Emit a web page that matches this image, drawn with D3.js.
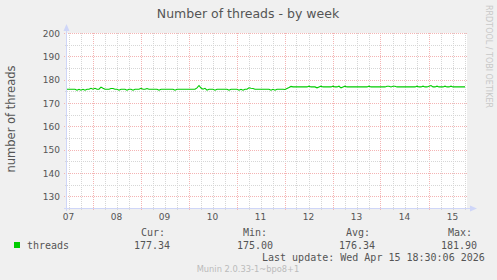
<!DOCTYPE html>
<html>
<head>
<meta charset="utf-8">
<script src="https://cdn.jsdelivr.net/npm/d3@7"></script>
<style>
  html, body { margin: 0; padding: 0; background: #F0F0F0; }
  svg { display: block; }
</style>
</head>
<body>
<svg id="chart" width="497" height="280"></svg>
<script>
// ---- data ----
const title = "Number of threads - by week";
const yAxisTitle = "number of threads";
const seriesName = "threads";
const startTime = "2026-04-07T11:15:00Z";   // first sample (hourly samples)
const endTime = "2026-04-15T19:15:00Z";
const yMin = 125, yMax = 200;
const yMajorTicks = [130, 140, 150, 160, 170, 180, 190, 200];
const yMinorTicks = [135, 145, 155, 165, 175, 185, 195];
const xDayLabels = ["07", "08", "09", "10", "11", "12", "13", "14", "15"];
const threads = [
  175.9,175.9,175.9,175.9,175.9,175.5,175.9,175.5,175.9,175.5,
  175.9,175.9,176.3,175.9,176.3,175.9,175.9,176.8,176.3,175.9,
  175.9,175.9,176.2,176.2,175.9,175.9,175.5,175.9,175.9,175.9,
  175.5,175.9,175.9,175.5,175.9,175.9,175.9,176.3,175.9,175.9,
  176.2,175.9,175.9,175.9,175.9,175.9,175.5,175.9,175.9,175.9,
  175.9,175.9,175.9,175.9,175.5,175.9,175.9,175.9,175.9,175.9,
  175.9,175.9,175.9,175.9,175.9,176.5,177.5,176.4,175.9,176.3,
  175.5,175.9,175.9,175.9,175.5,175.9,175.9,175.9,175.9,175.9,
  175.9,175.5,175.9,175.9,175.9,175.9,175.5,175.9,175.5,175.9,
  175.9,176.5,176.3,176.2,175.9,175.9,175.9,175.9,175.9,175.9,
  175.9,175.9,175.5,175.9,175.5,175.9,175.9,175.9,175.9,175.8,
  176.2,176.6,177.1,176.9,176.9,176.9,176.9,176.9,176.9,176.9,
  176.9,177.2,176.9,176.9,176.9,176.5,176.9,177.2,176.9,176.9,
  176.9,176.9,176.9,177.2,176.9,176.9,177.2,176.5,176.9,177.2,
  176.9,176.9,176.9,176.9,176.9,176.9,176.9,176.9,176.9,176.9,
  176.9,177.2,176.9,176.9,176.9,176.9,176.9,176.9,176.9,176.9,
  177.2,177.2,176.9,177.2,177.2,176.9,176.9,176.9,176.9,176.9,
  176.9,176.9,176.9,176.9,176.9,177.2,176.9,176.9,177.2,176.9,
  176.9,177.2,177.5,176.9,176.9,177.2,176.9,176.9,176.9,177.2,
  176.9,176.9,177.2,176.9,176.9,176.9,176.9,176.9,176.9,176.9
];
const legendHeaders = ["Cur:", "Min:", "Avg:", "Max:"];
const legendValues = ["177.34", "175.00", "176.34", "181.90"];
const lastUpdate = "Last update: Wed Apr 15 18:30:06 2026";
const footer = "Munin 2.0.33-1~bpo8+1";
const watermark = "RRDTOOL / TOBI OETIKER";

// ---- layout ----
const plot = { left: 67, right: 467, top: 33, bottom: 208 };
const textColor = "#555555";
const sans = "DejaVu Sans, sans-serif";
const mono = "DejaVu Sans Mono, monospace";

const svg = d3.select("#chart");
svg.append("rect").attr("width", 497).attr("height", 280).attr("fill", "#F0F0F0");
svg.append("rect")
  .attr("x", plot.left).attr("y", plot.top)
  .attr("width", plot.right - plot.left).attr("height", plot.bottom - plot.top)
  .attr("fill", "#FFFFFF");

const t0 = new Date(startTime), t1 = new Date(endTime);
const x = d3.scaleUtc().domain([t0, t1]).range([plot.left, plot.right]);
const y = d3.scaleLinear().domain([yMin, yMax]).range([plot.bottom, plot.top]);

const data = threads.map((v, i) => ({ t: d3.utcHour.offset(t0, i), v }));

// grid
const minorColor = "#D6D6D6", majorColor = "#F4B4B4";
const g = svg.append("g").attr("shape-rendering", "crispEdges");
const sixH = d3.utcHour.every(6).range(t0, t1).filter(d => d.getUTCHours() !== 0);
const days = d3.utcDay.range(t0, t1);
g.selectAll(".vmin").data(sixH).join("line")
  .attr("x1", d => Math.round(x(d)) + 0.5).attr("x2", d => Math.round(x(d)) + 0.5)
  .attr("y1", plot.top).attr("y2", plot.bottom + 2)
  .attr("stroke", minorColor).attr("stroke-dasharray", "1,1");
g.selectAll(".vmaj").data(days).join("line")
  .attr("x1", d => Math.round(x(d)) + 0.5).attr("x2", d => Math.round(x(d)) + 0.5)
  .attr("y1", plot.top).attr("y2", plot.bottom + 3)
  .attr("stroke", majorColor).attr("stroke-dasharray", "1,1");
g.selectAll(".hmin").data(yMinorTicks).join("line")
  .attr("x1", plot.left - 2).attr("x2", plot.right)
  .attr("y1", d => Math.round(y(d)) + 0.5).attr("y2", d => Math.round(y(d)) + 0.5)
  .attr("stroke", minorColor).attr("stroke-dasharray", "1,1");
g.selectAll(".hmaj").data(yMajorTicks).join("line")
  .attr("x1", plot.left - 3).attr("x2", plot.right)
  .attr("y1", d => Math.round(y(d)) + 0.5).attr("y2", d => Math.round(y(d)) + 0.5)
  .attr("stroke", majorColor).attr("stroke-dasharray", "1,1");

// axes
const axisColor = "#CFD6F8";
g.append("line").attr("x1", plot.left - 0.5).attr("x2", plot.left - 0.5)
  .attr("y1", plot.bottom + 3).attr("y2", plot.top - 4).attr("stroke", axisColor);
g.append("line").attr("x1", plot.left - 3).attr("x2", plot.right + 5)
  .attr("y1", plot.bottom + 0.5).attr("y2", plot.bottom + 0.5).attr("stroke", axisColor);
svg.append("path")
  .attr("d", `M${plot.left - 3.5},${plot.top - 2} L${plot.left - 0.5},${plot.top - 9} L${plot.left + 2.5},${plot.top - 2} Z`)
  .attr("fill", axisColor);
svg.append("path")
  .attr("d", `M${plot.right + 3},${plot.bottom - 2.5} L${plot.right + 10},${plot.bottom + 0.5} L${plot.right + 3},${plot.bottom + 3.5} Z`)
  .attr("fill", axisColor);

// line
svg.append("path").datum(data)
  .attr("fill", "none").attr("stroke", "#00CC00").attr("stroke-width", 1.1)
  .attr("d", d3.line().x(d => x(d.t)).y(d => y(d.v)));

// tick labels
svg.selectAll(".ylab").data(yMajorTicks).join("text")
  .attr("x", plot.left - 7).attr("y", d => y(d) + 3.5)
  .attr("text-anchor", "end").attr("font-family", sans).attr("font-size", 9)
  .attr("fill", textColor).text(d => d);
const noons = d3.utcDay.range(d3.utcDay.floor(t0), t1).map(d => d3.utcHour.offset(d, 12));
svg.selectAll(".xlab").data(noons.slice(0, xDayLabels.length)).join("text")
  .attr("x", d => x(d)).attr("y", 220)
  .attr("text-anchor", "middle").attr("font-family", sans).attr("font-size", 9)
  .attr("fill", textColor).text((d, i) => xDayLabels[i]);

// title
svg.append("text").attr("x", 248).attr("y", 18).attr("text-anchor", "middle")
  .attr("font-family", sans).attr("font-size", 12.5).attr("fill", textColor).text(title);
// y axis title
svg.append("text").attr("transform", "translate(15,119) rotate(-90)")
  .attr("text-anchor", "middle").attr("font-family", sans).attr("font-size", 11.5)
  .attr("fill", textColor).text(yAxisTitle);
// watermark
svg.append("text").attr("transform", "translate(486,5) rotate(90)")
  .attr("text-anchor", "start").attr("font-family", sans).attr("font-size", 8)
  .attr("fill", "#C8C8C8").text(watermark);

// legend
svg.append("rect").attr("x", 14).attr("y", 242).attr("width", 6).attr("height", 6).attr("fill", "#00CC00");
svg.append("text").attr("x", 27).attr("y", 249).attr("font-family", mono).attr("font-size", 10)
  .attr("fill", textColor).text(seriesName);
const headerX = [141, 243, 346, 448];
const valueX = [134, 237, 339, 441];
svg.selectAll(".lh").data(legendHeaders).join("text")
  .attr("x", (d, i) => headerX[i]).attr("y", 236)
  .attr("font-family", mono).attr("font-size", 10).attr("fill", textColor).text(d => d);
svg.selectAll(".lv").data(legendValues).join("text")
  .attr("x", (d, i) => valueX[i]).attr("y", 249)
  .attr("font-family", mono).attr("font-size", 10).attr("fill", textColor).text(d => d);
svg.append("text").attr("x", 262).attr("y", 261)
  .attr("font-family", mono).attr("font-size", 10).attr("fill", textColor).text(lastUpdate);
svg.append("text").attr("x", 248).attr("y", 272).attr("text-anchor", "middle")
  .attr("font-family", sans).attr("font-size", 8.3).attr("fill", "#BBBBBB").text(footer);
</script>
</body>
</html>
